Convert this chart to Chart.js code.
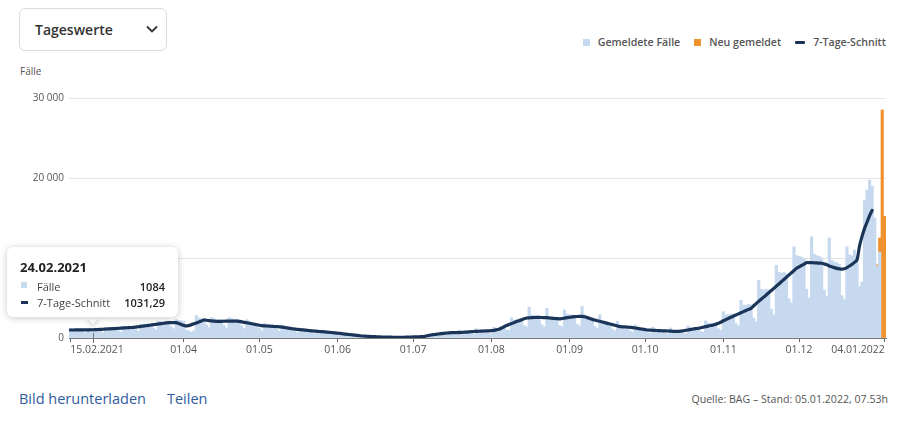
<!DOCTYPE html>
<html><head><meta charset="utf-8">
<script src="https://cdn.jsdelivr.net/npm/chart.js@4.4.1/dist/chart.umd.min.js"></script>
<style>
html,body{margin:0;padding:0;background:#fff;}
body{width:900px;height:424px;position:relative;overflow:hidden;font-family:"Open Sans",Arial,sans-serif;}
#sel{position:absolute;left:19px;top:8px;width:148px;height:43px;border:1px solid #dcdcdc;border-radius:6px;box-sizing:border-box;}
#sel span{position:absolute;left:15px;top:11px;font-size:14px;font-weight:600;color:#333;}
#sel svg{position:absolute;left:126px;top:16px;}
#unit{position:absolute;left:20px;top:64px;font-size:10px;color:#555;}
#legend{position:absolute;right:14px;top:35px;font-size:10.6px;font-weight:600;color:#555;display:flex;align-items:center;white-space:nowrap;}
#legend .it{display:flex;align-items:center;margin-left:14px;}
#legend i{display:inline-block;margin-right:8px;}
#wrap{position:absolute;left:0;top:80px;width:900px;height:290px;}
#tip{position:absolute;left:7px;top:247px;width:171px;height:70px;background:#fff;border-radius:6px;box-shadow:0 1px 7px rgba(0,0,0,0.22);font-size:11px;color:#444;}
#tip .t{position:absolute;left:13px;top:11px;font-size:13px;font-weight:700;color:#222;}
#tip .r{position:absolute;left:13px;right:13px;height:14px;}
#tip .r b{position:absolute;right:0;top:0;font-weight:600;color:#222;}
#tip .r em{font-style:normal;position:absolute;left:17px;top:0;}
#tip .r i{position:absolute;left:1px;}
#caret{position:absolute;left:88px;top:312px;width:10px;height:10px;background:#fff;transform:rotate(45deg);box-shadow:3px 3px 4px rgba(0,0,0,0.10);}
#links{position:absolute;left:19px;top:389px;font-size:14.5px;color:#2f5c9e;font-weight:500;}
#links span{margin-right:21px;}
#src{position:absolute;right:12px;top:392px;font-size:10.6px;color:#555;}
</style></head><body>
<div id="sel"><span>Tageswerte</span><svg width="12" height="8" viewBox="0 0 12 8"><path d="M1 1.5 L6 6.5 L11 1.5" fill="none" stroke="#333" stroke-width="1.8"/></svg></div>
<div id="unit">Fälle</div>
<div id="legend"></div>
<div id="wrap"><canvas id="c"></canvas></div>
<div id="caret"></div>
<div id="tip"></div>
<div id="links"><span>Bild herunterladen</span><span>Teilen</span></div>
<div id="src">Quelle: BAG – Stand: 05.01.2022, 07.53h</div>
<script>
// ---- data ----
const startDate = '2021-02-15';
// Gemeldete Fälle, one value per day from 15.02.2021 to 04.01.2022
const cases = [
1200,1150,1110,1110,1110,760,610,
1230,1180,1084,1150,1170,810,660,
1340,1300,1270,1290,1310,910,740,
1500,1460,1420,1440,1460,1030,850,
1740,1710,1680,1730,1780,1250,1030,
2100,2060,2020,2070,2110,1440,1150,
2300,2200,2150,2100,1000,900,700,
900,2800,2500,2400,2400,1650,1300,
2560,2420,2290,2290,2300,1570,1260,
2530,2430,2330,2330,2290,1520,1180,
2280,2120,1960,1890,1830,1200,920,
1820,1730,1630,1610,1580,1070,840,
1630,1510,1390,1330,1280,840,650,
1260,1170,1090,1060,1010,670,520,
1000,930,870,840,800,530,400,
760,690,630,580,540,350,250,
470,400,350,310,280,170,130,
230,200,180,160,140,90,70,
130,120,100,100,90,60,50,
120,130,130,140,150,110,100,
240,280,340,410,440,300,280,
760,670,670,700,700,440,370,
950,810,790,810,800,510,450,
1160,970,950,960,930,590,510,
1340,1170,1210,1360,1470,1010,940,
2520,2220,2270,2390,2400,1560,1380,
3850,2850,2750,2750,2650,1650,1400,
3700,2750,2650,2650,2550,1550,1400,
3500,3000,2900,2900,2800,1700,1500,
3950,2900,2650,2500,2300,1450,1200,
2900,2150,2000,1900,1750,1100,900,
2100,1650,1550,1500,1450,900,750,
1650,1300,1220,1200,1150,700,580,
1350,1060,1010,1000,960,600,500,
1250,980,950,960,940,600,520,
1500,1300,1300,1320,1300,820,700,
2150,1850,1850,1850,1850,1150,950,
3300,2900,2900,3000,2950,1800,1500,
4700,4100,4100,4200,4150,2500,2050,
7200,6100,6000,6100,6000,3600,2900,
9100,8200,8100,8200,8000,4900,4400,
11400,10300,10200,10100,9900,6100,5000,
12660,10500,10300,10200,10000,6000,5200,
12500,9700,9500,9400,9200,5300,4800,
11400,10400,10300,11000,9500,6400,7000,
17250,18500,19750,19000,15000,9000,10750,
null,null
];
// Neu gemeldet (latest update)
const newDates = ['2022-01-01','2022-01-02','2022-01-03','2022-01-04'];
const newValues = [150,1750,28500,15200];
// 7-Tage-Schnitt, one value per day from 15.02.2021 (ends 30.12.2021)
const avg7 = [
1000,1000,1005,1010,1010,1015,1020,
1025,1030,1031.29,1045,1060,1080,1095,
1115,1130,1150,1170,1190,1210,1230,
1250,1270,1290,1310,1330,1370,1410,
1450,1490,1530,1575,1620,1665,1710,
1750,1790,1840,1880,1920,1925,1920,
1920,1820,1700,1580,1500,1560,1660,
1770,1880,2000,2130,2250,2220,2180,
2130,2100,2080,2085,2090,2095,2100,
2110,2115,2120,2120,2080,2020,1960,
1900,1840,1780,1720,1660,1600,1540,
1520,1500,1480,1460,1440,1420,1400,
1360,1310,1260,1210,1160,1120,1080,
1050,1020,990,960,920,890,860,
830,810,790,760,730,700,670,
630,600,570,530,490,460,420,
390,350,320,280,250,230,210,
190,175,160,145,130,120,110,
105,100,95,90,85,85,90,
100,110,120,130,140,150,160,
170,240,310,375,420,460,500,
540,580,610,640,670,675,680,
680,700,720,740,760,790,810,
830,845,860,875,890,900,920,
960,1020,1100,1240,1400,1560,1700,
1800,1930,2060,2170,2290,2400,2500,
2520,2540,2560,2570,2570,2560,2550,
2540,2500,2470,2440,2420,2400,2440,
2490,2540,2590,2630,2670,2690,2700,
2700,2650,2550,2450,2330,2240,2150,
2100,2010,1920,1830,1750,1670,1590,
1510,1420,1400,1380,1360,1330,1300,
1250,1200,1150,1100,1050,1000,980,
960,945,930,915,900,885,875,
860,840,820,830,860,900,950,
1000,1060,1120,1170,1210,1280,1350,
1420,1490,1560,1625,1730,1830,1980,
2150,2300,2450,2600,2740,2880,3020,
3160,3300,3440,3580,3710,4000,4300,
4580,4850,5110,5375,5650,5930,6200,
6480,6750,7030,7310,7590,7870,8150,
8430,8710,8890,9060,9240,9420,9430,
9420,9400,9380,9360,9340,9260,9170,
9000,8900,8800,8700,8650,8600,8650,
8800,9000,9200,9450,9750,11500,12700,
13700,14500,15300,15950
];
const tickDates = ['2021-02-15','2021-04-01','2021-05-01','2021-06-01','2021-07-01','2021-08-01','2021-09-01','2021-10-01','2021-11-01','2021-12-01','2022-01-04'];
const tickLabels = ['15.02.2021','01.04','01.05','01.06','01.07','01.08','01.09','01.10','01.11','01.12','04.01.2022'];
const yTicks = [0,10000,20000,30000];
const seriesNames = ['Gemeldete Fälle','Neu gemeldet','7-Tage-Schnitt'];
const hoverDate = '2021-02-24';

// ---- helpers ----
const COL_BAR='rgb(198,217,239)', COL_NEW='#f0922e', COL_LINE='#1b3559';
const DAY=86400000;
const ymd = s => s.split('-').map(Number);
const t0 = Date.UTC(...(a=>[a[0],a[1]-1,a[2]])(ymd(startDate)));
const dayIndex = s => { const a=ymd(s); return Math.round((Date.UTC(a[0],a[1]-1,a[2])-t0)/DAY); };
const tickDays = tickDates.map(dayIndex);
const lastDay = cases.length-1;
const fmtNum = v => String(v).replace(/\B(?=(\d{3})+(?!\d))/g,' ');

// legend
const lg=document.getElementById('legend');
[[seriesNames[0],`<i style="width:7px;height:7px;background:${COL_BAR}"></i>`],
 [seriesNames[1],`<i style="width:7px;height:7px;background:${COL_NEW}"></i>`],
 [seriesNames[2],`<i style="width:10px;height:3px;background:${COL_LINE};border-radius:1px"></i>`]]
 .forEach(([n,sw])=>{const d=document.createElement('div');d.className='it';d.innerHTML=sw+n;lg.appendChild(d);});

// tooltip
const hd=dayIndex(hoverDate);
const hp=ymd(hoverDate);
const pad=n=>String(n).padStart(2,'0');
document.getElementById('tip').innerHTML=
 `<div class="t">${pad(hp[2])}.${pad(hp[1])}.${hp[0]}</div>`+
 `<div class="r" style="top:32px"><i style="top:3px;width:6px;height:6px;background:${COL_BAR}"></i><em>Fälle</em><b>${cases[hd]}</b></div>`+
 `<div class="r" style="top:48px"><i style="top:6px;width:7px;height:3px;background:${COL_LINE}"></i><em>7-Tage-Schnitt</em><b>${avg7[hd].toFixed(2).replace('.',',')}</b></div>`;

const hoverPlugin={id:'hov',afterDatasetsDraw(ch){const x=ch.scales.x.getPixelForValue(hd);const b=ch.chartArea.bottom;const c=ch.ctx;c.save();c.strokeStyle='#777';c.lineWidth=1;c.beginPath();c.moveTo(Math.round(x)+0.5,b-5);c.lineTo(Math.round(x)+0.5,b+5);c.stroke();c.restore();}};

Chart.defaults.font.family='"Open Sans", Arial, sans-serif';
new Chart(document.getElementById('c'),{
  type:'bar',
  data:{datasets:[
    {type:'line',label:seriesNames[2],data:avg7.map((v,i)=>({x:i,y:v})),borderColor:COL_LINE,borderWidth:3.2,pointRadius:0,tension:0.3,stack:'avg',order:0,borderCapStyle:'round',borderJoinStyle:'round'},
    {label:seriesNames[0],data:cases.map((v,i)=>({x:i,y:v})),backgroundColor:COL_BAR,borderWidth:0,barPercentage:1,categoryPercentage:1,stack:'bars',order:1},
    {label:seriesNames[1],data:newDates.map((s,k)=>({x:dayIndex(s),y:newValues[k]})),backgroundColor:COL_NEW,borderWidth:0,barPercentage:1,categoryPercentage:1,stack:'bars',order:2}
  ]},
  options:{
    responsive:true,maintainAspectRatio:false,animation:false,
    layout:{padding:{top:18,right:14,left:0,bottom:0}},
    plugins:{legend:{display:false},tooltip:{enabled:false}},
    scales:{
      x:{type:'linear',stacked:true,offset:false,min:-0.5,max:lastDay+0.5,
        afterBuildTicks:s=>{s.ticks=tickDays.map(v=>({value:v}));},
        afterFit:s=>{s.height=32;},
        ticks:{autoSkip:false,maxRotation:0,align:'inner',padding:2,color:'#555',font:{size:10.5},
          callback:v=>{const k=tickDays.indexOf(v);return k<0?'':tickLabels[k];}},
        grid:{offset:false,drawOnChartArea:false,drawTicks:true,tickLength:4,color:'#666'},
        border:{display:true,color:'#777',width:1}},
      y:{stacked:true,min:0,max:30000,
        afterBuildTicks:s=>{s.ticks=yTicks.map(v=>({value:v}));},
        afterFit:s=>{s.width=69;},
        ticks:{padding:5,color:'#555',font:{size:10},callback:v=>fmtNum(v)},
        grid:{color:'#e6e6e6',drawTicks:false,lineWidth:1},
        border:{display:false}}
    }
  },
  plugins:[hoverPlugin]
});
</script>
</body></html>
